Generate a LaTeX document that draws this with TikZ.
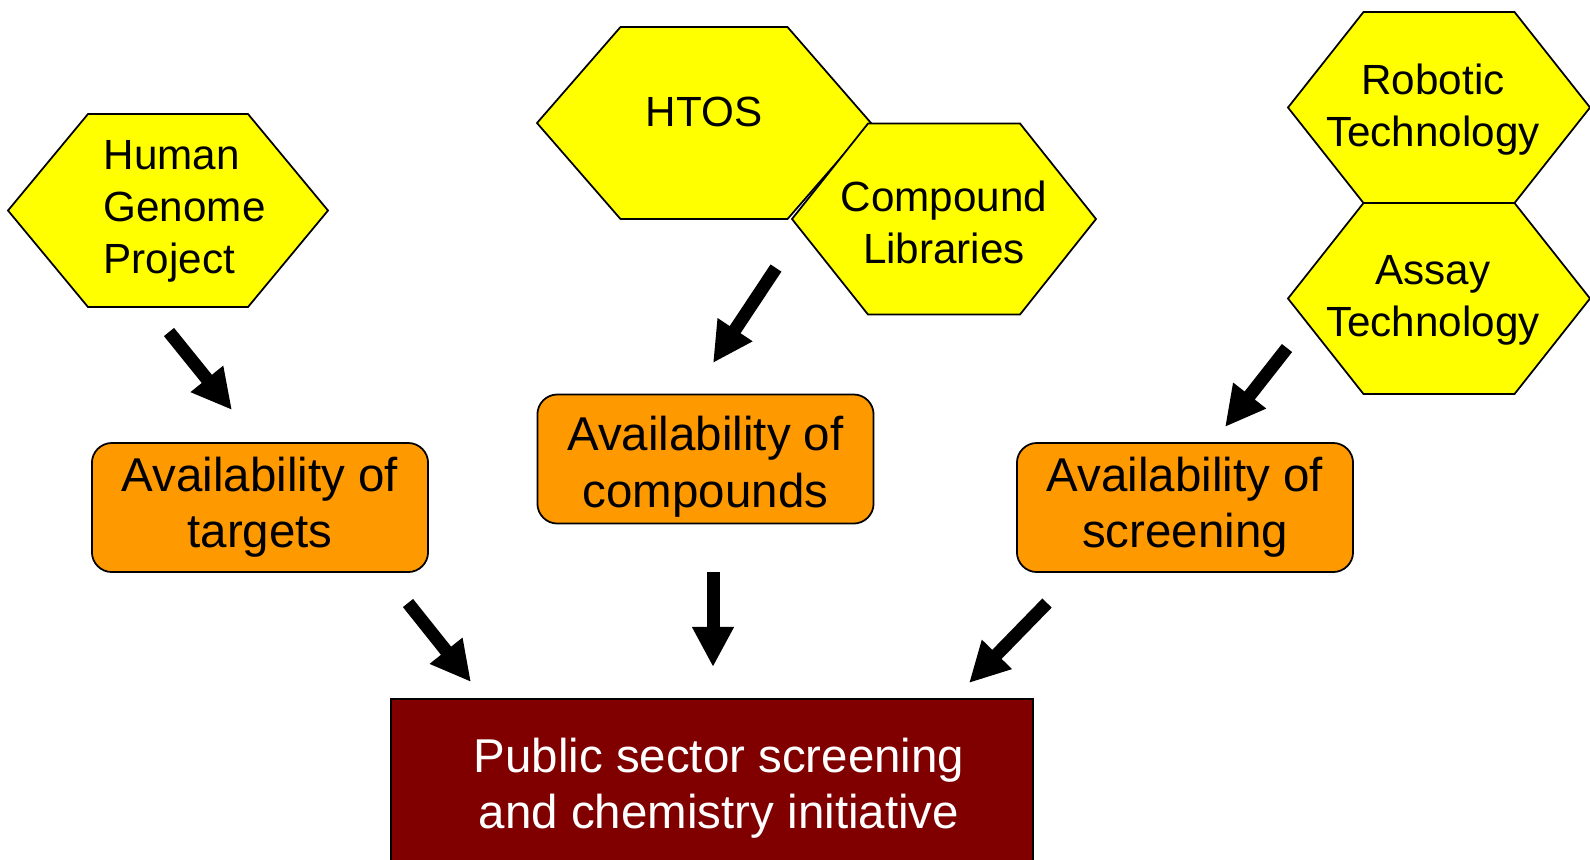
\documentclass[tikz,border=0pt]{standalone}
\usepackage{fontspec}
\setmainfont{Liberation Sans}
\usetikzlibrary{arrows.meta}

\definecolor{hexyellow}{RGB}{255,255,0}
\definecolor{boxorange}{RGB}{255,153,0}
\definecolor{boxmaroon}{RGB}{128,0,0}

% hexagon cell: centre x, centre y, half width, half height
\newcommand{\hexcell}[4]{%
  \filldraw[hex] ({#1-#3},#2) -- ({#1-#3/2},{#2-#4}) -- ({#1+#3/2},{#2-#4})
    -- ({#1+#3},#2) -- ({#1+#3/2},{#2+#4}) -- ({#1-#3/2},{#2+#4}) -- cycle;}

\begin{document}
\begin{tikzpicture}[
  x=0.01cm, y=-0.01cm,
  hex/.style={draw=black, fill=hexyellow, line width=0.5pt},
  hexlbl/.style={font=\fontsize{12}{14.8}\selectfont, align=center, inner sep=0pt},
  avail/.style={rectangle, draw=black, fill=boxorange, rounded corners=0.2cm,
                line width=0.5pt, minimum width=3.36cm, minimum height=1.29cm,
                font=\fontsize{13.5}{16}\selectfont, align=center, inner sep=0pt},
  goal/.style={rectangle, draw=black, fill=boxmaroon, text=white, line width=0.5pt,
               minimum width=6.41cm, minimum height=1.78cm,
               font=\fontsize{13.5}{16}\selectfont, align=center, inner sep=0pt},
  blk/.style={-{Triangle[length=0.4cm, width=0.39cm]}, line width=0.13cm}]
  \useasboundingbox (0,0) rectangle (1590,859);

  % hexagons
  \hexcell{168}{210.5}{160}{96.5}
  \node[hexlbl, align=left, anchor=west] (hgp) at (103,211) {Human\\Genome\\Project};
  \hexcell{704}{123}{167}{96}
  \node[hexlbl] (htos) at (704,112) {HTOS};
  \hexcell{944}{219}{152}{95.5}
  \node[hexlbl] (lib) at (944,222) {Compound\\Libraries};
  \hexcell{1439}{107.5}{151}{95.5}
  \node[hexlbl] (robot) at (1433,110) {Robotic\\Technology};
  \hexcell{1439}{298.5}{151}{95.5}
  \node[hexlbl] (assay) at (1433,300) {Assay\\Technology};

  % availability boxes
  \node[avail] (tgt) at (260,507.5) {Availability of\\targets};
  \node[avail] (cmp) at (705.5,459) {\rule{0pt}{0.5cm}Availability of\\compounds};
  \node[avail] (scr) at (1185,507.5) {Availability of\\screening};

  \node[goal] (psi) at (712,788)
    {\hspace*{0.14cm}Public sector screening\\\hspace*{0.14cm}and chemistry initiative};

  % arrow ends
  \coordinate (hgp-out) at (169,332);
  \coordinate (tgt-in) at (232,410);
  \coordinate (lib-out) at (776,268);
  \coordinate (cmp-in) at (713,363);
  \coordinate (assay-out) at (1287,348);
  \coordinate (scr-in) at (1225,427);
  \coordinate (tgt-out) at (408,603);
  \coordinate (cmp-out) at (713,572);
  \coordinate (scr-out) at (1047,603);
  \coordinate (psi-inl) at (471,682);
  \coordinate (psi-inm) at (713,667);
  \coordinate (psi-inr) at (969,683);

  \draw[blk] (hgp-out) -- (tgt-in);
  \draw[blk] (lib-out) -- (cmp-in);
  \draw[blk] (assay-out) -- (scr-in);
  \draw[blk] (tgt-out) -- (psi-inl);
  \draw[blk] (cmp-out) -- (psi-inm);
  \draw[blk] (scr-out) -- (psi-inr);
\end{tikzpicture}
\end{document}
